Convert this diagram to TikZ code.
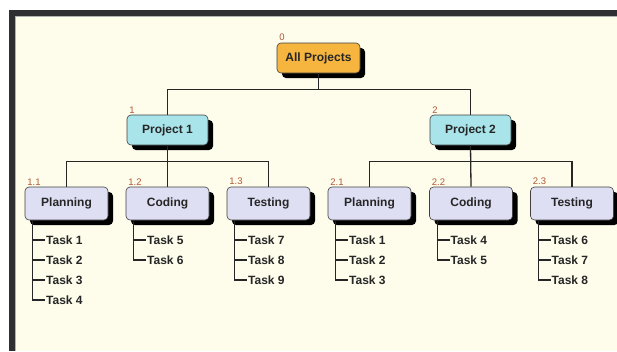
\documentclass[tikz,border=0pt]{standalone}
\usepackage{fontspec}
\setmainfont{Liberation Sans}

\definecolor{bandgray}{HTML}{2F2F33}
\definecolor{paper}{HTML}{FEFDEC}
\definecolor{rootfill}{HTML}{F5B53F}
\definecolor{projfill}{HTML}{A9E4EA}
\definecolor{phasefill}{HTML}{DFDFF4}
\definecolor{numred}{HTML}{B0573A}

\tikzset{
  wbsbox/.style={draw=black!75,line width=.6pt,rounded corners=4pt,inner sep=0pt,
    minimum width=83pt,minimum height=30pt,text=black!85,
    font=\bfseries\fontsize{12}{14}\selectfont,
    preaction={fill=black,transform canvas={shift={(5pt,-5pt)}}}},
  rootbox/.style={wbsbox,fill=rootfill},
  projbox/.style={wbsbox,fill=projfill,minimum width=81pt},
  phasebox/.style={wbsbox,fill=phasefill,minimum height=33pt},
  tasklbl/.style={anchor=west,inner sep=1pt,text=black!85,font=\bfseries\fontsize{12}{14}\selectfont},
  numlbl/.style={anchor=south west,inner sep=1.5pt,xshift=1pt,text=numred,font=\fontsize{9.5}{11}\selectfont},
  conn/.style={line width=1.3pt,black!85}
}

\begin{document}
\begin{tikzpicture}[x=1pt,y=-1pt]
\path[use as bounding box] (0,0) rectangle (617,351);
\clip (0,0) rectangle (617,351);
\fill[bandgray] (9,10) rectangle (617,351);
\fill[paper] (15,16) rectangle (617,351);
\draw[gray!60,line width=.6pt] (15.3,351) -- (15.3,16.3) -- (617,16.3);

\node[rootbox] (root) at (318.5,58) {All Projects};
\node[projbox] (p1) at (167.5,130) {Project 1};
\node[projbox] (p2) at (470.5,130) {Project 2};
\node[phasebox] (ph11) at (66.5,203.5) {Planning};
\node[phasebox] (ph12) at (167.5,203.5) {Coding};
\node[phasebox] (ph13) at (268.5,203.5) {Testing};
\node[phasebox] (ph21) at (369.5,203.5) {Planning};
\node[phasebox] (ph22) at (471,203.5) {Coding};
\node[phasebox] (ph23) at (572,203.5) {Testing};

\node[numlbl] (n0) at (root.north west) {0};
\node[numlbl] (n1) at (p1.north west) {1};
\node[numlbl] (n2) at (p2.north west) {2};
\node[numlbl] (n11) at (ph11.north west) {1.1};
\node[numlbl] (n12) at (ph12.north west) {1.2};
\node[numlbl] (n13) at (ph13.north west) {1.3};
\node[numlbl] (n21) at (ph21.north west) {2.1};
\node[numlbl] (n22) at (ph22.north west) {2.2};
\node[numlbl] (n23) at (ph23.north west) {2.3};

\node[tasklbl] (t111) at (45,240) {Task 1};
\node[tasklbl] (t112) at (45,260) {Task 2};
\node[tasklbl] (t113) at (45,280) {Task 3};
\node[tasklbl] (t114) at (45,300) {Task 4};
\node[tasklbl] (t121) at (146,240) {Task 5};
\node[tasklbl] (t122) at (146,260) {Task 6};
\node[tasklbl] (t131) at (247,240) {Task 7};
\node[tasklbl] (t132) at (247,260) {Task 8};
\node[tasklbl] (t133) at (247,280) {Task 9};
\node[tasklbl] (t211) at (348,240) {Task 1};
\node[tasklbl] (t212) at (348,260) {Task 2};
\node[tasklbl] (t213) at (348,280) {Task 3};
\node[tasklbl] (t221) at (449.5,240) {Task 4};
\node[tasklbl] (t222) at (449.5,260) {Task 5};
\node[tasklbl] (t231) at (550.5,240) {Task 6};
\node[tasklbl] (t232) at (550.5,260) {Task 7};
\node[tasklbl] (t233) at (550.5,280) {Task 8};

\draw[conn] (root.south) -- ++(0,16) -| (p1.north);
\draw[conn] (root.south) ++(0,16) -| (p2.north);
\draw[conn] (p1.south) -- ++(0,16) -| (ph11.north);
\draw[conn] (p1.south) ++(0,16) -| (ph13.north);
\draw[conn] (p1.south) -- (ph12.north);
\draw[conn] (p2.south) -- ++(0,16) -| (ph21.north);
\draw[conn] (p2.south) ++(0,16) -| (ph23.north);
\draw[conn] (p2.south) -- (ph22.north);

\draw[conn] ([xshift=8pt]ph11.south west) |- (t111.west);
\draw[conn] ([xshift=8pt]ph11.south west) |- (t112.west);
\draw[conn] ([xshift=8pt]ph11.south west) |- (t113.west);
\draw[conn] ([xshift=8pt]ph11.south west) |- (t114.west);
\draw[conn] ([xshift=8pt]ph12.south west) |- (t121.west);
\draw[conn] ([xshift=8pt]ph12.south west) |- (t122.west);
\draw[conn] ([xshift=8pt]ph13.south west) |- (t131.west);
\draw[conn] ([xshift=8pt]ph13.south west) |- (t132.west);
\draw[conn] ([xshift=8pt]ph13.south west) |- (t133.west);
\draw[conn] ([xshift=8pt]ph21.south west) |- (t211.west);
\draw[conn] ([xshift=8pt]ph21.south west) |- (t212.west);
\draw[conn] ([xshift=8pt]ph21.south west) |- (t213.west);
\draw[conn] ([xshift=8pt]ph22.south west) |- (t221.west);
\draw[conn] ([xshift=8pt]ph22.south west) |- (t222.west);
\draw[conn] ([xshift=8pt]ph23.south west) |- (t231.west);
\draw[conn] ([xshift=8pt]ph23.south west) |- (t232.west);
\draw[conn] ([xshift=8pt]ph23.south west) |- (t233.west);
\end{tikzpicture}
\end{document}
